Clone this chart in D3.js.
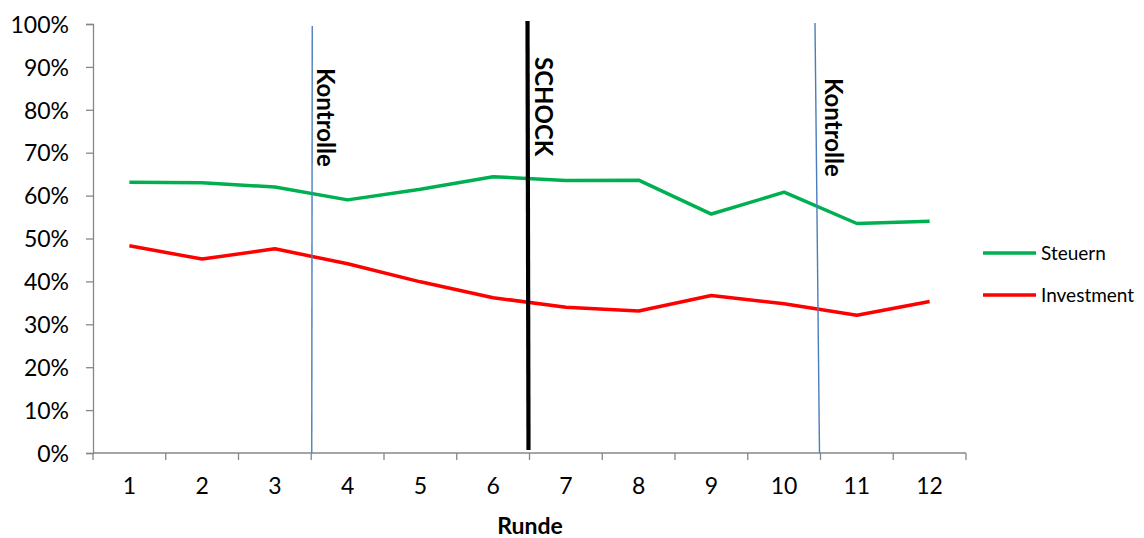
<!DOCTYPE html>
<html>
<head>
<meta charset="utf-8">
<script src="https://cdn.jsdelivr.net/npm/d3@7"></script>
<style>
  html, body { margin: 0; padding: 0; background: #fff; }
  svg { display: block; }
  text { font-family: Lato, "Open Sans", sans-serif; fill: #000; }
</style>
</head>
<body>
<svg id="chart" width="1144" height="538"></svg>
<script>
// ---- data ----
const rounds = ["1","2","3","4","5","6","7","8","9","10","11","12"];
const steuern = [0.631, 0.630, 0.620, 0.590, 0.615, 0.644, 0.635, 0.636, 0.557, 0.608, 0.535, 0.540];
const investment = [0.483, 0.452, 0.476, 0.441, 0.399, 0.362, 0.340, 0.331, 0.367, 0.348, 0.321, 0.353];
const yTicks = [0, 0.1, 0.2, 0.3, 0.4, 0.5, 0.6, 0.7, 0.8, 0.9, 1.0];
const seriesNames = ["Steuern", "Investment"];
const seriesColors = ["#00B050", "#FF0000"];
// markers placed after a given round
const markerAfter = [3, 6, 10];
const markerLabels = ["Kontrolle", "SCHOCK", "Kontrolle"];
const xTitle = "Runde";

// ---- layout ----
const svg = d3.select("#chart");
const L = 93, R = 966, T = 24, B = 453;

const x = d3.scaleBand().domain(rounds).range([L, R]).paddingInner(0).paddingOuter(0);
const y = d3.scaleLinear().domain([0, 1]).range([B, T]);
const cx = d => x(d) + x.bandwidth() / 2;
const boundary = n => L + n * x.step();

// y axis
const yAxis = d3.axisLeft(y).tickValues(yTicks).tickFormat(d3.format(".0%")).tickSize(7).tickPadding(17);
const gy = svg.append("g").attr("transform", `translate(${L},0)`).call(yAxis);
gy.select(".domain").attr("stroke", "#878787").attr("stroke-width", 1.3);
gy.selectAll(".tick line").attr("stroke", "#878787").attr("stroke-width", 1.3);
gy.selectAll(".tick text").attr("font-size", 23).attr("font-family", "Lato").attr("fill", "#000").attr("dy", "0.36em");

// x axis: ticks at category boundaries
const gx = svg.append("g").attr("transform", `translate(0,${B})`);
gx.append("line").attr("x1", L).attr("x2", R).attr("y1", 0).attr("y2", 0)
  .attr("stroke", "#878787").attr("stroke-width", 1.3);
gx.selectAll("line.tk").data(d3.range(rounds.length + 1)).enter().append("line")
  .attr("class", "tk")
  .attr("x1", d => boundary(d)).attr("x2", d => boundary(d))
  .attr("y1", 0).attr("y2", 7)
  .attr("stroke", "#878787").attr("stroke-width", 1.3);
gx.selectAll("text").data(rounds).enter().append("text")
  .attr("x", d => cx(d)).attr("y", 41)
  .attr("text-anchor", "middle").attr("font-size", 23)
  .text(d => d);

// x title
svg.append("text").attr("x", 530).attr("y", 534).attr("text-anchor", "middle")
  .attr("font-size", 23).attr("font-weight", "bold").text(xTitle);

// series lines
const line = d3.line().x((d, i) => cx(rounds[i])).y(d => y(d));
[steuern, investment].forEach((s, k) => {
  svg.append("path").datum(s).attr("d", line)
    .attr("fill", "none").attr("stroke", seriesColors[k])
    .attr("stroke-width", 3.5).attr("stroke-linejoin", "round");
});

// marker lines
const markerStyle = [
  { color: "#4A7EBB", width: 1.4, top: 26, bottom: B, dxTop: 1, dxBot: 0.5, labelX: 317, labelY: 68 },
  { color: "#000000", width: 4.2, top: 21, bottom: 450, dxTop: -2, dxBot: -1, labelX: 535, labelY: 57 },
  { color: "#4A7EBB", width: 1.4, top: 23, bottom: B, dxTop: -5.5, dxBot: -1, labelX: 825, labelY: 78 }
];
markerAfter.forEach((m, i) => {
  const st = markerStyle[i];
  const bx = boundary(m);
  svg.append("line")
    .attr("x1", bx + st.dxTop).attr("x2", bx + st.dxBot)
    .attr("y1", st.top).attr("y2", st.bottom)
    .attr("stroke", st.color).attr("stroke-width", st.width);
  svg.append("text")
    .attr("transform", `translate(${st.labelX},${st.labelY}) rotate(90)`)
    .attr("font-size", 24).attr("font-weight", "bold")
    .text(markerLabels[i]);
});

// legend
const legY = [253, 295];
seriesNames.forEach((n, k) => {
  svg.append("line").attr("x1", 983).attr("x2", 1036).attr("y1", legY[k]).attr("y2", legY[k])
    .attr("stroke", seriesColors[k]).attr("stroke-width", 3.5);
  svg.append("text").attr("x", 1041).attr("y", legY[k] + 7).attr("font-size", 19).text(n);
});
</script>
</body>
</html>
